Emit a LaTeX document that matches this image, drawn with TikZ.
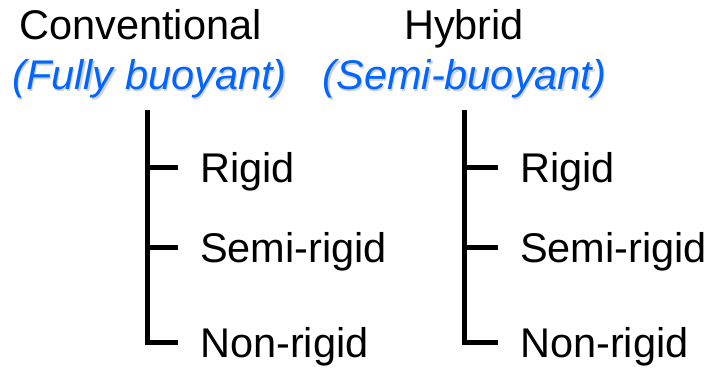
\documentclass[tikz,border=0pt]{standalone}
\usepackage{fontspec}
\setmainfont{Liberation Sans}
\usetikzlibrary{positioning}
\definecolor{buoyblue}{RGB}{0,102,255}
\newcommand{\shadowed}[1]{\makebox[0pt][l]{\hspace{1.5pt}\raisebox{-1.5pt}{\color{black!18}#1}}#1}
\tikzset{
    head/.style = {
        font=\fontsize{41.5}{48}\selectfont,
        inner sep=0pt,
        anchor=base,
        },
    sub/.style = {
        head,
        text=buoyblue,
        font=\fontsize{41.5}{48}\selectfont\itshape,
        },
    kind/.style = {
        font=\fontsize{41.5}{48}\selectfont,
        inner sep=0pt,
        anchor=west,
        text height=29.5pt,
        text depth=0pt,
        },
    bracket/.style = {
        line width=5pt,
        line join=miter,
        shorten >=22pt,
        },
}
\begin{document}
\begin{tikzpicture}[x=1pt, y=-1pt]
    \useasboundingbox (0,0) rectangle (710,371);

    % column headings
    \node [head] (conv) at (140.5,40) {Conventional};
    \node [head] (hyb) at (464,40) {Hybrid};
    \node [sub] (fully) at (149.5,90) {\shadowed{(Fully buoyant)}};
    \node [sub] (semi) at (464.5,90) {\shadowed{(Semi-buoyant)}};

    % conventional kinds
    \coordinate (ctop) at (147,110);
    \node [kind] (cr) at (200,168) {Rigid};
    \node [kind] (cs) at (200,248) {Semi-rigid};
    \node [kind] (cn) at (200,343) {Non-rigid};
    \draw [bracket] (ctop) |- (cn.west);
    \draw [bracket] (ctop |- cr.west) -- (cr.west);
    \draw [bracket] (ctop |- cs.west) -- (cs.west);

    % hybrid kinds
    \coordinate (htop) at (464,110);
    \node [kind] (hr) at (520,168) {Rigid};
    \node [kind] (hs) at (520,248) {Semi-rigid};
    \node [kind] (hn) at (520,343) {Non-rigid};
    \draw [bracket] (htop) |- (hn.west);
    \draw [bracket] (htop |- hr.west) -- (hr.west);
    \draw [bracket] (htop |- hs.west) -- (hs.west);
\end{tikzpicture}
\end{document}
